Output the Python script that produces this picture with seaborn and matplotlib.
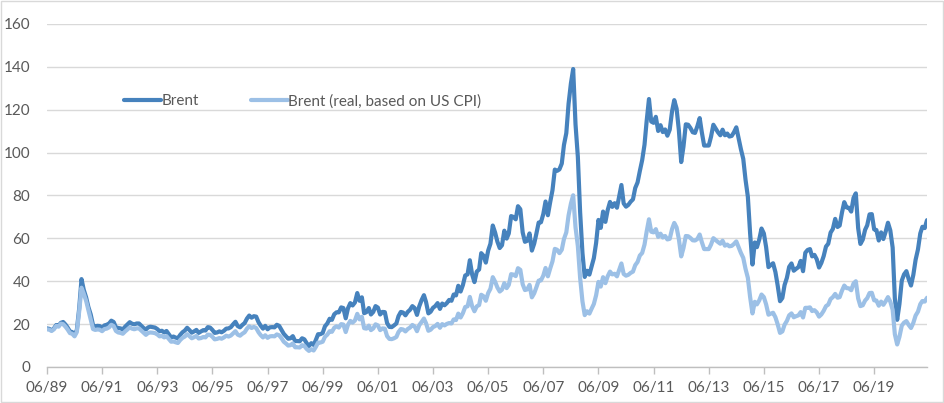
"""Brent crude, nominal vs. real (US CPI deflated), monthly 06/1989 - 05/2021."""
import matplotlib

matplotlib.use("Agg")
import matplotlib.dates as mdates
import matplotlib.pyplot as plt
import pandas as pd
import seaborn as sns

# monthly values, USD/bbl, first month 06/1989
brent = [
    18.0, 17.8, 17.1, 18.0, 19.6, 19.2, 20.6,  # 1989 (Jun-Dec)
    21.0, 19.8, 18.4, 16.6, 16.3, 15.1, 17.2, 27.2, 41.0, 36.0, 32.5, 28.0,  # 1990
    24.5, 19.5, 19.0, 19.2, 19.1, 18.3, 19.4, 19.7, 20.3, 21.6, 21.0, 18.5,  # 1991
    18.2, 18.0, 17.5, 18.8, 19.8, 20.9, 20.2, 19.9, 20.3, 20.3, 19.2, 18.2,  # 1992
    17.5, 18.5, 18.8, 18.6, 18.4, 17.7, 16.7, 16.9, 16.1, 16.8, 15.3, 13.8,  # 1993
    14.2, 13.7, 13.4, 15.0, 16.2, 17.0, 18.3, 17.2, 16.0, 16.6, 17.3, 15.9,  # 1994
    16.6, 17.2, 17.0, 18.6, 18.4, 17.3, 15.9, 16.1, 16.6, 16.2, 16.9, 17.9,  # 1995
    18.0, 18.6, 19.9, 21.1, 19.1, 18.5, 19.6, 20.5, 22.6, 24.0, 23.0, 23.7,  # 1996
    23.5, 20.9, 19.3, 17.9, 19.2, 17.6, 18.5, 18.6, 18.5, 19.7, 19.2, 17.4,  # 1997
    15.5, 14.3, 13.2, 13.4, 14.4, 12.1, 12.1, 12.0, 13.4, 12.9, 11.1, 9.8,  # 1998
    11.1, 10.3, 12.5, 15.3, 15.3, 15.9, 19.0, 20.3, 22.5, 22.0, 24.6, 25.5,  # 1999
    25.5, 27.8, 27.5, 22.7, 27.4, 29.8, 28.7, 30.1, 34.5, 30.9, 32.5, 25.1,  # 2000
    25.6, 27.5, 24.5, 25.7, 28.4, 27.7, 24.5, 25.7, 25.6, 20.5, 18.7, 18.6,  # 2001
    19.4, 20.3, 23.7, 25.7, 25.4, 24.1, 25.7, 26.7, 28.4, 27.5, 24.3, 28.3,  # 2002
    31.2, 33.5, 30.3, 25.0, 25.8, 27.6, 28.4, 29.8, 27.1, 29.6, 28.8, 29.8,  # 2003
    31.3, 30.9, 33.8, 33.4, 37.9, 35.2, 38.2, 42.7, 43.2, 49.8, 43.1, 39.6,  # 2004
    44.5, 45.5, 53.1, 51.9, 48.7, 54.3, 57.5, 66.0, 62.7, 58.5, 55.5, 56.8,  # 2005
    63.6, 59.9, 62.3, 70.4, 70.0, 68.9, 75.0, 73.6, 62.8, 58.4, 58.9, 62.3,  # 2006
    54.3, 57.6, 62.1, 67.4, 67.5, 71.3, 77.2, 70.8, 77.0, 82.5, 92.1, 91.5,  # 2007
    92.2, 94.9, 103.6, 109.1, 122.8, 132.3, 139.0, 113.2, 98.0, 72.3, 53.2, 42.0,  # 2008
    44.9, 43.1, 46.8, 50.8, 57.9, 68.6, 64.9, 72.5, 67.7, 73.2, 77.0, 74.7,  # 2009
    76.4, 74.3, 79.3, 84.9, 76.3, 74.8, 75.6, 77.1, 78.2, 83.5, 86.1, 91.4,  # 2010
    96.5, 103.7, 114.6, 125.0, 114.5, 113.9, 116.7, 110.1, 112.8, 109.6, 110.8, 107.9,  # 2011
    110.7, 119.3, 124.5, 120.5, 110.5, 95.6, 102.8, 113.2, 113.0, 111.5, 109.5, 109.2,  # 2012
    112.3, 116.1, 109.5, 103.3, 103.3, 103.3, 107.4, 113.0, 111.2, 109.5, 108.1, 110.7,  # 2013
    108.1, 108.9, 107.5, 107.8, 109.5, 111.8, 106.8, 101.6, 97.1, 87.4, 79.4, 62.3,  # 2014
    47.8, 58.1, 55.9, 59.5, 64.6, 62.3, 55.9, 46.6, 47.6, 48.4, 44.3, 38.0,  # 2015
    30.7, 32.2, 38.2, 41.6, 46.7, 48.3, 44.9, 45.8, 46.6, 49.5, 44.7, 53.3,  # 2016
    54.6, 55.0, 51.6, 52.3, 50.3, 46.4, 48.5, 51.7, 56.2, 57.5, 62.7, 64.4,  # 2017
    69.1, 65.3, 66.0, 72.1, 76.9, 74.4, 74.3, 72.5, 78.9, 81.0, 64.8, 57.4,  # 2018
    59.4, 64.0, 66.1, 71.2, 71.3, 64.2, 63.9, 59.0, 62.8, 59.7, 63.2, 67.3,  # 2019
    63.7, 55.7, 32.0, 22.0, 29.4, 40.3, 43.2, 44.7, 40.9, 38.0, 43.0, 50.0,  # 2020
    54.8, 62.3, 65.4, 64.8, 68.5,  # 2021 (Jan-May)
]

brent_real = [
    17.6, 17.4, 16.8, 17.6, 19.2, 18.8, 20.2,  # 1989
    20.0, 18.8, 17.5, 15.8, 15.5, 14.3, 16.3, 25.8, 37.0, 34.2, 30.9, 26.6,  # 1990
    22.3, 17.7, 17.3, 17.5, 17.4, 16.7, 17.7, 17.9, 18.5, 19.7, 19.1, 16.8,  # 1991
    16.1, 15.9, 15.5, 16.6, 17.5, 18.5, 17.9, 17.6, 18.0, 18.0, 17.0, 16.1,  # 1992
    15.0, 15.9, 16.1, 16.0, 15.8, 15.2, 14.3, 14.5, 13.8, 14.4, 13.1, 11.8,  # 1993
    11.9, 11.5, 11.2, 12.6, 13.6, 14.2, 15.3, 14.4, 13.4, 13.9, 14.5, 13.3,  # 1994
    13.5, 14.0, 13.8, 15.1, 15.0, 14.1, 12.9, 13.1, 13.5, 13.2, 13.8, 14.6,  # 1995
    14.2, 14.7, 15.7, 16.7, 15.1, 14.6, 15.5, 16.2, 17.9, 19.0, 18.2, 18.7,  # 1996
    18.2, 16.2, 14.9, 13.8, 14.8, 13.6, 14.3, 14.4, 14.3, 15.2, 14.8, 13.5,  # 1997
    11.8, 10.9, 10.0, 10.2, 11.0, 9.2, 9.2, 9.1, 10.2, 9.8, 8.4, 7.5,  # 1998
    8.3, 7.7, 9.3, 11.4, 11.4, 11.8, 14.1, 15.1, 16.7, 16.4, 18.3, 19.0,  # 1999
    18.4, 20.0, 19.8, 16.3, 19.7, 21.5, 20.7, 21.7, 24.8, 22.2, 23.4, 18.1,  # 2000
    17.9, 19.3, 17.2, 18.0, 19.9, 19.4, 17.2, 18.0, 17.9, 14.4, 13.1, 13.0,  # 2001
    13.4, 14.0, 16.3, 17.7, 17.5, 16.6, 17.7, 18.4, 19.6, 18.9, 16.7, 19.5,  # 2002
    21.0, 22.6, 20.4, 16.9, 17.4, 18.6, 19.1, 20.1, 18.3, 20.0, 19.4, 20.1,  # 2003
    20.5, 20.3, 22.2, 21.9, 24.9, 23.1, 25.1, 28.0, 28.3, 32.7, 28.3, 26.0,  # 2004
    28.3, 28.9, 33.7, 33.0, 30.9, 34.5, 36.5, 41.9, 39.8, 37.1, 35.2, 36.1,  # 2005
    39.1, 36.8, 38.3, 43.3, 43.1, 42.4, 46.1, 45.3, 38.6, 35.9, 36.2, 38.3,  # 2006
    32.5, 34.4, 37.1, 40.3, 40.4, 42.6, 46.2, 42.3, 46.0, 49.3, 55.1, 54.7,  # 2007
    53.1, 54.7, 59.7, 62.8, 70.7, 76.2, 80.1, 65.2, 56.4, 41.6, 30.6, 24.2,  # 2008
    26.0, 24.9, 27.1, 29.4, 33.5, 39.7, 37.5, 41.9, 39.1, 42.3, 44.5, 43.2,  # 2009
    43.5, 42.3, 45.1, 48.3, 43.4, 42.6, 43.0, 43.9, 44.5, 47.5, 49.0, 52.0,  # 2010
    53.2, 57.1, 63.1, 68.9, 63.1, 62.8, 64.3, 60.7, 62.2, 60.4, 61.1, 59.5,  # 2011
    59.8, 64.4, 67.2, 65.1, 59.7, 51.6, 55.5, 61.1, 61.0, 60.2, 59.1, 59.0,  # 2012
    59.7, 61.8, 58.3, 55.0, 55.0, 55.0, 57.1, 60.1, 59.2, 58.3, 57.5, 58.9,  # 2013
    56.6, 57.1, 56.3, 56.5, 57.4, 58.6, 56.0, 53.2, 50.9, 45.8, 41.6, 32.6,  # 2014
    25.0, 30.4, 29.2, 31.1, 33.8, 32.6, 29.2, 24.4, 24.9, 25.3, 23.2, 19.9,  # 2015
    15.9, 16.6, 19.7, 21.5, 24.1, 25.0, 23.2, 23.7, 24.1, 25.6, 23.1, 27.6,  # 2016
    27.6, 27.8, 26.1, 26.5, 25.5, 23.5, 24.5, 26.2, 28.4, 29.1, 31.7, 32.6,  # 2017
    34.1, 32.3, 32.6, 35.6, 38.0, 36.8, 36.7, 35.8, 39.0, 40.0, 32.0, 28.4,  # 2018
    28.8, 31.0, 32.1, 34.5, 34.6, 31.1, 31.0, 28.6, 30.5, 29.0, 30.7, 32.6,  # 2019
    30.5, 26.7, 15.3, 10.5, 14.1, 19.3, 20.7, 21.4, 19.6, 18.2, 20.6, 24.0,  # 2020
    25.8, 29.3, 30.8, 30.5, 32.3,  # 2021
]

series_names = ["Brent", "Brent (real, based on US CPI)"]
series_colors = ["#4682BD", "#9CC0E6"]

dates = pd.date_range("1989-06-01", periods=len(brent), freq="MS")
df = pd.DataFrame({"date": dates, series_names[0]: brent, series_names[1]: brent_real})
long = df.melt(id_vars="date", var_name="series", value_name="price")

sns.set_theme(style="white")
plt.rcParams["font.family"] = ["Lato", "DejaVu Sans"]
TXT = "#595959"
FS = 11

fig = plt.figure(figsize=(9.45, 4.03), dpi=100)
ax = fig.add_axes([47 / 945, 36 / 403, 880 / 945, 343 / 403])

sns.lineplot(
    data=long, x="date", y="price", hue="series", hue_order=series_names,
    palette=series_colors, linewidth=3.0, ax=ax,
)

ax.set_ylim(0, 160)
ax.set_yticks(range(0, 161, 20))
ax.set_xlim(dates[0], dates[-1])
ticks = pd.date_range("1989-06-01", "2019-06-01", freq="24MS")
ax.set_xticks(ticks)
ax.xaxis.set_major_formatter(mdates.DateFormatter("%m/%y"))
ax.set_xlabel("")
ax.set_ylabel("")

ax.grid(axis="y", color="#D9D9D9", linewidth=1)
ax.set_axisbelow(True)
for s in ["top", "right", "left"]:
    ax.spines[s].set_visible(False)
ax.spines["bottom"].set_color("#BFBFBF")
ax.spines["bottom"].set_linewidth(1)
ax.tick_params(axis="y", length=0, pad=12, labelsize=FS, labelcolor=TXT)
ax.tick_params(axis="x", length=5, width=1, color="#BFBFBF", direction="out",
               pad=5, labelsize=FS, labelcolor=TXT, bottom=True)

leg = ax.legend(
    loc="center left", bbox_to_anchor=(0.072, 0.775), ncol=2, frameon=False,
    fontsize=FS, handlelength=2.4, columnspacing=3.4, handletextpad=0.05,
)
for t in leg.get_texts():
    t.set_color(TXT)

fig.patches.append(plt.Rectangle((0.001, 0.002), 0.997, 0.995, transform=fig.transFigure,
                                 fill=False, edgecolor="#D9D9D9", linewidth=1))

fig.savefig("out.png", dpi=100)
